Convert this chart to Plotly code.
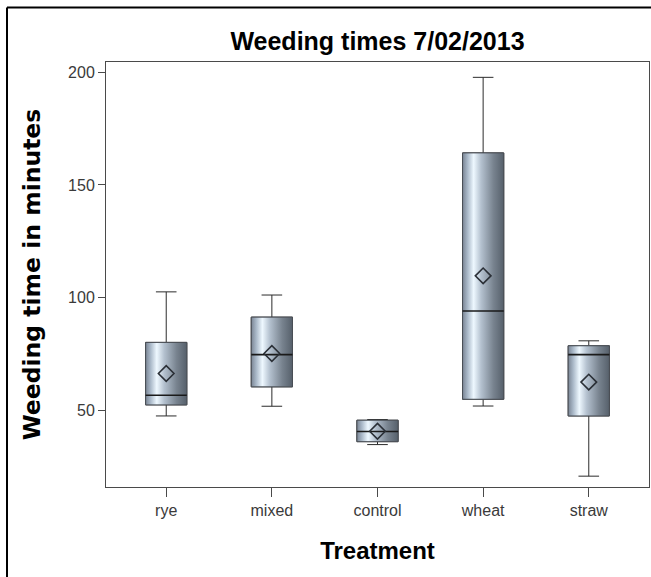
import plotly.graph_objects as go

categories = ["rye", "mixed", "control", "wheat", "straw"]
lower_whisker = [47.6, 51.9, 34.9, 52.0, 20.9]
q1_values = [52.5, 60.5, 36.2, 55.0, 47.6]
median_values = [56.8, 74.8, 40.7, 94.1, 74.8]
q3_values = [80.2, 91.4, 45.7, 164.2, 78.7]
upper_whisker = [102.6, 101.2, 46.0, 197.7, 80.9]
mean_values = [66.4, 75.3, 40.8, 109.7, 62.6]
y_ticks = [50, 100, 150, 200]

BOX_W = 0.39
positions = list(range(len(categories)))

fig = go.Figure()

# whiskers (box trace supplies whiskers & caps)
fig.add_trace(go.Box(
    x=positions, q1=q1_values, median=median_values, q3=q3_values,
    lowerfence=lower_whisker, upperfence=upper_whisker,
    width=BOX_W, whiskerwidth=0.5, fillcolor="rgba(0,0,0,0)",
    line=dict(color="#2b2b2b", width=1), boxpoints=False,
    showlegend=False, hoverinfo="skip",
))

grad = [[0.0, "#7a8594"], [0.12, "#a9b8c8"], [0.27, "#eef8ff"],
        [0.45, "#b4c1cf"], [0.75, "#78838f"], [1.0, "#56606b"]]

for i, cat in enumerate(categories):
    x0, x1 = i - BOX_W / 2, i + BOX_W / 2
    fig.add_trace(go.Scatter(
        x=[x0, x1, x1, x0, x0],
        y=[q1_values[i], q1_values[i], q3_values[i], q3_values[i], q1_values[i]],
        mode="lines", fill="toself",
        fillgradient=dict(type="horizontal", colorscale=grad),
        line=dict(color="#4a4f56", width=1),
        showlegend=False, hoverinfo="skip",
    ))
    fig.add_trace(go.Scatter(
        x=[x0, x1], y=[median_values[i], median_values[i]],
        mode="lines", line=dict(color="#1a1a1a", width=1.6),
        showlegend=False, hoverinfo="skip",
    ))

fig.add_trace(go.Scatter(
    x=positions, y=mean_values, mode="markers",
    marker=dict(symbol="diamond-open", size=12, color="#2a2f36",
                line=dict(width=1.6, color="#2a2f36")),
    showlegend=False, hoverinfo="skip",
))

fig.update_layout(
    width=651, height=577,
    margin=dict(l=106, r=2, t=61.5, b=90.3),
    paper_bgcolor="white", plot_bgcolor="white",
    font=dict(family="Liberation Sans, Arial, sans-serif", color="#333333"),
    title=dict(text="<b>Weeding times 7/02/2013</b>", x=0.5, xref="paper",
               y=1 - 41 / 577, yref="container", yanchor="middle", xanchor="center",
               font=dict(size=25, color="#000000", family="Liberation Sans, Arial, sans-serif")),
    xaxis=dict(
        range=[-0.57, 4.57], tickvals=positions, ticktext=categories,
        showline=True, linecolor="#4a4a4a", linewidth=1, mirror=True,
        ticks="outside", ticklen=9, tickcolor="#4a4a4a",
        showgrid=False, zeroline=False,
        tickfont=dict(size=16, color="#3a3a3a"),
        title=dict(text="<b>Treatment</b>", standoff=23,
                   font=dict(size=24, color="#000000")),
    ),
    yaxis=dict(
        range=[16.1, 204.5], tickvals=y_ticks,
        showline=True, linecolor="#4a4a4a", linewidth=1, mirror=True,
        ticks="outside", ticklen=7, tickcolor="#4a4a4a",
        showgrid=False, zeroline=False,
        tickfont=dict(size=16, color="#3a3a3a"),
        title=dict(text="<b>Weeding time in minutes</b>", standoff=20,
                   font=dict(size=23.5, color="#000000",
                             family="DejaVu Sans, Liberation Sans, sans-serif")),
    ),
    shapes=[
        dict(type="line", xref="paper", yref="paper",
             x0=(7 - 106) / 543, x1=(7 - 106) / 543, y0=-0.3, y1=(486.7 - 7) / 425.2,
             line=dict(color="black", width=2)),
        dict(type="line", xref="paper", yref="paper",
             x0=(7 - 106) / 543, x1=1.1, y0=(486.7 - 7) / 425.2, y1=(486.7 - 7) / 425.2,
             line=dict(color="black", width=2)),
    ],
)

fig.write_html("out.html", config={"displayModeBar": False},
               post_script="document.body.style.margin='0';document.body.style.padding='0';")
